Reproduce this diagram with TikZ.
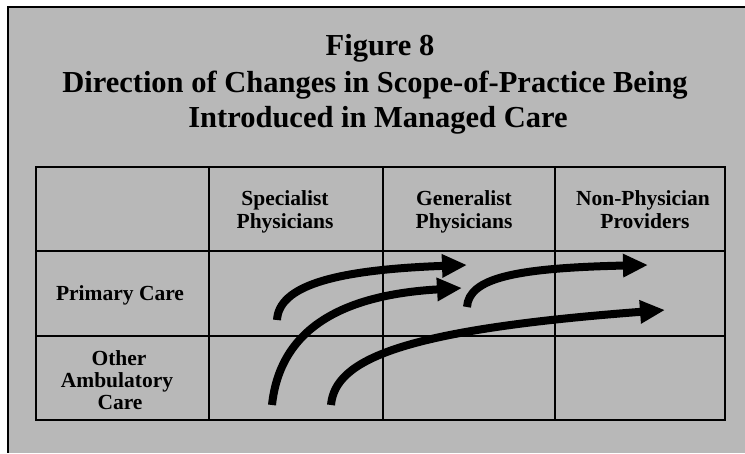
\documentclass[tikz,border=0pt]{standalone}
\usepackage{fontspec}
\setmainfont{Liberation Serif}
\usetikzlibrary{arrows.meta}
\definecolor{bggray}{gray}{0.72}
\begin{document}
\begin{tikzpicture}[x=1pt,y=-1pt,
  titletxt/.style={font=\fontsize{30.5}{36}\selectfont\bfseries, anchor=base, inner sep=0pt},
  celltxt/.style={font=\fontsize{21.5}{23}\selectfont\bfseries, anchor=base, inner sep=0pt},
  gridline/.style={line width=1.1pt},
  flow/.style={line width=8pt, -{Triangle[length=25pt,width=22pt]}}]
\useasboundingbox (0,0) rectangle (745,453);
\fill[bggray] (8,7) rectangle (745,453);
\draw[line width=1.5pt] (745,7) -- (8,7) -- (8,453);
% title
\node[titletxt] (t1) at (380,55) {Figure 8};
\node[titletxt] (t2) at (375,92) {Direction of Changes in Scope-of-Practice Being};
\node[titletxt] (t3) at (378,127) {Introduced in Managed Care};
% table grid
\foreach \x in {209,383,555} \draw[gridline] (\x,167) -- (\x,420);
\foreach \y in {251,336} \draw[gridline] (36,\y) -- (725,\y);
\draw[line width=1.5pt] (36,167) rectangle (725,420);
% headers
\node[celltxt] (h1a) at (285,205) {Specialist};
\node[celltxt] (h1b) at (285,228) {Physicians};
\node[celltxt] (h2a) at (464,205) {Generalist};
\node[celltxt] (h2b) at (464,228) {Physicians};
\node[celltxt] (h3a) at (643,205) {Non-Physician};
\node[celltxt] (h3b) at (645,228) {Providers};
% row labels
\node[celltxt] (r1) at (120,300) {Primary Care};
\node[celltxt] (r2a) at (119,365) {Other};
\node[celltxt] (r2b) at (117,387) {Ambulatory};
\node[celltxt] (r2c) at (120,409) {Care};
% arrows
\coordinate (a1s) at (277,320);
\coordinate (a1e) at (467,265);
\coordinate (a2s) at (272,405);
\coordinate (a2e) at (462,288);
\coordinate (a3s) at (467,307);
\coordinate (a3e) at (648,265);
\coordinate (a4s) at (331,405);
\coordinate (a4e) at (665,310);
\draw[flow] (a1s) .. controls (279,287) and (330,270) .. (a1e);
\draw[flow] (a2s) .. controls (280,330) and (340,295) .. (a2e);
\draw[flow] (a3s) .. controls (469,278) and (515,268) .. (a3e);
\draw[flow] (a4s) .. controls (335,360) and (400,330) .. (a4e);
\end{tikzpicture}
\end{document}
